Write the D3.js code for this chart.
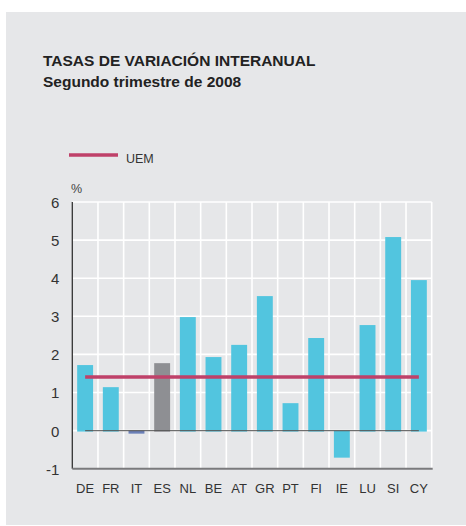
<!DOCTYPE html>
<html><head><meta charset="utf-8">
<script src="https://cdn.jsdelivr.net/npm/d3@7"></script>
<style>body{margin:0;background:#fff}svg{display:block}text{font-family:"Liberation Sans",Arial,sans-serif}</style>
</head><body>
<script>
const categories = ["DE","FR","IT","ES","NL","BE","AT","GR","PT","FI","IE","LU","SI","CY"];
const values = [1.72, 1.14, -0.08, 1.77, 2.98, 1.93, 2.25, 3.53, 0.72, 2.43, -0.71, 2.77, 5.08, 3.95];
const uemValue = 1.41;
const yTicks = [-1,0,1,2,3,4,5,6];
const title = "TASAS DE VARIACIÓN INTERANUAL";
const subtitle = "Segundo trimestre de 2008";
const legendLabel = "UEM";
const unitLabel = "%";

(function(){
const W = 466, H = 526;
const svg = d3.select("body").append("svg").attr("width", W).attr("height", H);
svg.append("rect").attr("x",6).attr("y",12).attr("width",W-6).attr("height",H-1-12).attr("fill","#e6e7e9");

const pLeft = 72.3, pRight = 431.7, pTop = 202, pBottom = 468.7;
const x = d3.scaleBand().domain(categories).range([pLeft, pRight]).paddingInner(0.38).paddingOuter(0.19);
const xb = d3.scaleBand().domain(categories).range([pLeft, pRight]);
const y = d3.scaleLinear().domain([-1, 6]).range([pBottom, pTop]);

// grid
const g = svg.append("g");
g.selectAll(".hg").data(yTicks.filter(d=>d>-1)).enter().append("line")
  .attr("x1", pLeft).attr("x2", pRight).attr("y1", d=>y(d)).attr("y2", d=>y(d))
  .attr("stroke","#fff").attr("stroke-width",1.6);
g.selectAll(".vg").data(categories).enter().append("line")
  .attr("x1", d=>xb(d)+xb.bandwidth()).attr("x2", d=>xb(d)+xb.bandwidth())
  .attr("y1", pTop).attr("y2", pBottom)
  .attr("stroke","#fff").attr("stroke-width",1.6);

// bars
const color = (c) => c === "ES" ? "#8e8f93" : (c === "IT" ? "#6b80b8" : "#52c5df");
svg.selectAll(".bar").data(categories).enter().append("rect")
  .attr("x", d=>x(d))
  .attr("width", x.bandwidth())
  .attr("y", (d,i)=> values[i] >= 0 ? y(values[i]) : y(0))
  .attr("height", (d,i)=> Math.abs(y(values[i]) - y(0)) + (values[i] >= 0 ? 1 : 0))
  .attr("fill", d=>color(d));

// zero line
const xc = d => xb(d) + xb.bandwidth()/2;
svg.append("line").attr("x1", xc(categories[0])).attr("x2", xc(categories[categories.length-1]))
  .attr("y1", y(0)).attr("y2", y(0)).attr("stroke","#555").attr("stroke-opacity",0.85).attr("stroke-width",1.3);

// UEM line
svg.append("line").attr("x1", xc(categories[0])).attr("x2", xc(categories[categories.length-1]))
  .attr("y1", y(uemValue)).attr("y2", y(uemValue)).attr("stroke","#bf4169").attr("stroke-width",3.5);

// axes
svg.append("line").attr("x1", pLeft).attr("x2", pLeft).attr("y1", pTop).attr("y2", pBottom).attr("stroke","#333").attr("stroke-width",1.3);
svg.append("line").attr("x1", pLeft).attr("x2", pRight+1).attr("y1", pBottom).attr("y2", pBottom).attr("stroke","#7a7a7c").attr("stroke-width",2);

const yAxis = d3.axisLeft(y).tickValues(yTicks).tickSize(0).tickPadding(0).tickFormat(d => String(d));
const ya = svg.append("g").attr("transform", `translate(${pLeft-13},0)`).call(yAxis);
ya.select(".domain").remove();
ya.selectAll("text").attr("font-size", 15).attr("fill","#333").attr("font-family","Liberation Sans, Arial, sans-serif").attr("dy","0.36em");

const xAxis = d3.axisBottom(xb).tickSize(0).tickPadding(0);
const xa = svg.append("g").attr("transform", `translate(0,${pBottom+15})`).call(xAxis);
xa.select(".domain").remove();
xa.selectAll("text").attr("font-size", 13).attr("fill","#333").attr("font-family","Liberation Sans, Arial, sans-serif").attr("dy","0.71em");

// titles
svg.append("text").attr("x",43).attr("y",66).attr("font-size",15.5).attr("font-weight","bold").attr("fill","#222").text(title);
svg.append("text").attr("x",43).attr("y",87).attr("font-size",15.5).attr("font-weight","bold").attr("fill","#222").text(subtitle);

// legend
svg.append("line").attr("x1",69).attr("x2",118).attr("y1",155).attr("y2",155).attr("stroke","#bf4169").attr("stroke-width",3.5);
svg.append("text").attr("x",126).attr("y",163).attr("font-size",12.5).attr("fill","#333").text(legendLabel);
svg.append("text").attr("x",71).attr("y",193).attr("font-size",12.5).attr("fill","#444").text(unitLabel);
})();
</script>
</body></html>
